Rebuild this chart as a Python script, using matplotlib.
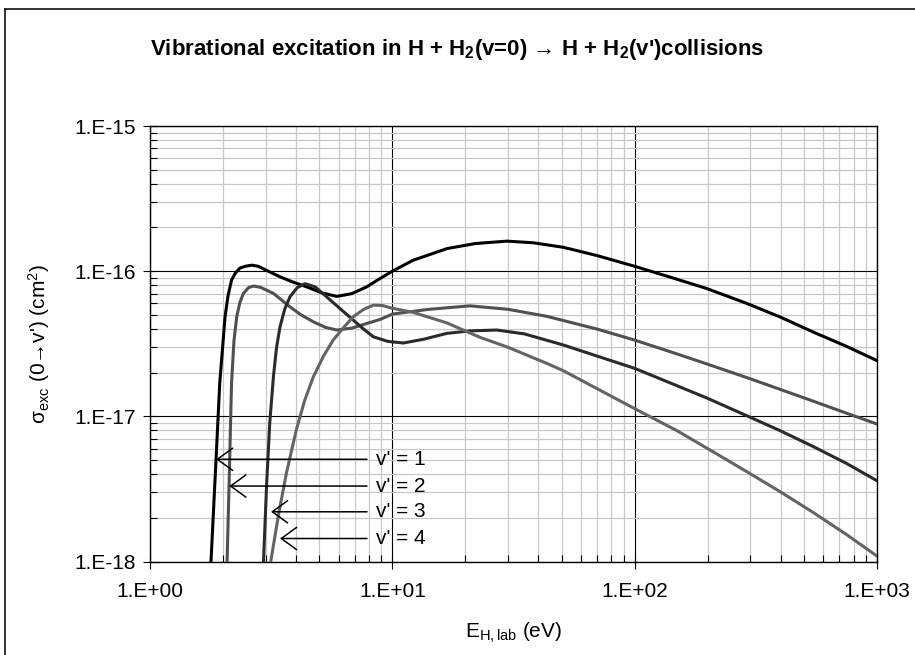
import matplotlib
matplotlib.use("Agg")
import matplotlib.pyplot as plt
from matplotlib.lines import Line2D
from matplotlib.ticker import LogLocator, NullFormatter, FixedLocator, FixedFormatter

plt.rcParams['font.family'] = ['Liberation Sans', 'DejaVu Sans']
plt.rcParams['mathtext.fontset'] = 'custom'
plt.rcParams['mathtext.rm'] = 'Liberation Sans'
plt.rcParams['mathtext.it'] = 'Liberation Sans:italic'
plt.rcParams['mathtext.bf'] = 'Liberation Sans:bold'
plt.rcParams['mathtext.default'] = 'regular'

# ---- data ----
v1_E = [1.785, 1.873, 1.94, 2.04, 2.10, 2.17, 2.25, 2.35, 2.47, 2.63, 2.8, 3.0, 3.44, 3.9, 4.43, 5.1, 5.9,
        6.8, 7.84, 8.9, 10, 12.2, 16.8, 22, 29.7, 38, 50.8, 70, 100, 140, 198, 290, 400, 547, 750, 1000]
v1_s = [1.0e-18, 5.06e-18, 1.69e-17, 4.85e-17, 6.8e-17, 8.67e-17, 9.7e-17, 1.05e-16, 1.08e-16, 1.10e-16,
        1.08e-16, 1.02e-16, 9.14e-17, 8.4e-17, 7.8e-17, 7.1e-17, 6.7e-17, 7.0e-17, 7.8e-17, 8.9e-17, 1.0e-16,
        1.19e-16, 1.43e-16, 1.55e-16, 1.61e-16, 1.57e-16, 1.46e-16, 1.28e-16, 1.08e-16, 9.1e-17, 7.6e-17,
        6.0e-17, 4.82e-17, 3.8e-17, 3.03e-17, 2.42e-17]

v2_E = [2.08, 2.12, 2.17, 2.22, 2.28, 2.35, 2.43, 2.55, 2.67, 2.85, 3.23, 3.78, 4.2, 4.72, 5.3, 5.9, 6.8, 7.84,
        8.9, 10, 14, 20.9, 30, 43.3, 70, 100, 140, 198, 290, 400, 547, 750, 1000]
v2_s = [1.0e-18, 3.4e-18, 1.69e-17, 3.3e-17, 4.85e-17, 6.1e-17, 7.03e-17, 7.7e-17, 7.9e-17, 7.75e-17, 7.03e-17,
        5.68e-17, 5.0e-17, 4.48e-17, 4.1e-17, 3.93e-17, 4.05e-17, 4.36e-17, 4.65e-17, 5.06e-17, 5.45e-17,
        5.77e-17, 5.46e-17, 4.89e-17, 3.99e-17, 3.35e-17, 2.79e-17, 2.30e-17, 1.85e-17, 1.53e-17, 1.27e-17,
        1.05e-17, 8.85e-18]

v3_E = [2.94, 3.03, 3.12, 3.23, 3.33, 3.44, 3.6, 3.78, 4.05, 4.36, 4.8, 5.36, 6.1, 6.9, 7.6, 8.35, 9.6, 11.1,
        13.5, 16.8, 21, 27, 35, 50.8, 70, 100, 140, 198, 290, 400, 547, 750, 1000]
v3_s = [1.0e-18, 3.46e-18, 9.0e-18, 1.87e-17, 3.0e-17, 4.14e-17, 5.5e-17, 6.65e-17, 7.7e-17, 8.2e-17, 7.8e-17,
        6.65e-17, 5.5e-17, 4.6e-17, 4.0e-17, 3.53e-17, 3.28e-17, 3.2e-17, 3.4e-17, 3.73e-17, 3.88e-17, 3.93e-17,
        3.7e-17, 3.1e-17, 2.6e-17, 2.14e-17, 1.70e-17, 1.34e-17, 1.01e-17, 7.94e-18, 6.18e-18, 4.73e-18, 3.6e-18]

v4_E = [3.15, 3.4, 3.66, 4.02, 4.35, 4.72, 5.2, 5.7, 6.3, 6.9, 7.6, 8.35, 9.1, 10, 12.2, 16.8, 23, 29.7, 43.3,
        50.8, 70, 100, 150, 211, 290, 398, 547, 750, 1000]
v4_s = [1.0e-18, 2.16e-18, 4.1e-18, 8.13e-18, 1.29e-17, 1.87e-17, 2.6e-17, 3.35e-17, 4.1e-17, 4.85e-17, 5.45e-17,
        5.83e-17, 5.8e-17, 5.55e-17, 5.2e-17, 4.4e-17, 3.5e-17, 3.01e-17, 2.32e-17, 2.06e-17, 1.55e-17,
        1.13e-17, 7.94e-18, 5.69e-18, 4.16e-18, 3.03e-18, 2.17e-18, 1.53e-18, 1.09e-18]

series_E = [v1_E, v2_E, v3_E, v4_E]
series_s = [v1_s, v2_s, v3_s, v4_s]
series_colors = ['#000000', '#505050', '#2a2a2a', '#646464']

labels = ["v' = 1", "v' = 2", "v' = 3", "v' = 4"]
arrow_tip_E = [1.873, 2.125, 3.158, 3.44]
arrow_tip_s = [5.06e-18, 3.31e-18, 2.2e-18, 1.44e-18]
arrow_tail_E = 7.86
label_E = 8.56

x_ticks = [1, 10, 100, 1000]
x_ticklabels = ['1.E+00', '1.E+01', '1.E+02', '1.E+03']
y_ticks = [1e-18, 1e-17, 1e-16, 1e-15]
y_ticklabels = ['1.E-18', '1.E-17', '1.E-16', '1.E-15']

title = "Vibrational excitation in H + H$_\\mathbf{2}$(v=0) \u2192 H + H$_\\mathbf{2}$(v')collisions"
xlabel = "E$_{H,lab}$ (eV)"
ylabel = "\u03c3$_{exc}$ (0\u2192v') (cm$^2$)"

# ---- figure ----
W, H = 915, 655
fig = plt.figure(figsize=(W / 100, H / 100), dpi=100)
ax = fig.add_axes([150 / W, 1 - 561.5 / H, (877 - 150) / W, (561.5 - 126) / H])

ax.set_xscale('log')
ax.set_yscale('log')
ax.set_xlim(1, 1000)
ax.set_ylim(1e-18, 1e-15)

ax.xaxis.set_major_locator(FixedLocator(x_ticks))
ax.xaxis.set_major_formatter(FixedFormatter(x_ticklabels))
ax.yaxis.set_major_locator(FixedLocator(y_ticks))
ax.yaxis.set_major_formatter(FixedFormatter(y_ticklabels))
ax.xaxis.set_minor_locator(LogLocator(base=10, subs=range(2, 10), numticks=20))
ax.yaxis.set_minor_locator(LogLocator(base=10, subs=range(2, 10), numticks=20))
ax.xaxis.set_minor_formatter(NullFormatter())
ax.yaxis.set_minor_formatter(NullFormatter())

ax.grid(which='minor', color='#c8c8c8', lw=0.9, zorder=0)
ax.grid(which='major', color='#000000', lw=0.8, zorder=0.5)
ax.set_axisbelow(True)

ax.tick_params(which='major', direction='inout', length=10, width=0.8, labelsize=15, pad=5, colors='black')
ax.tick_params(which='minor', direction='in', length=5, width=0.8)
ax.tick_params(axis='x', which='major', pad=10)
for sp in ax.spines.values():
    sp.set_linewidth(1.0)
    sp.set_color('black')

for E, s, c in zip(series_E, series_s, series_colors):
    ax.plot(E, s, color=c, lw=2.2, solid_joinstyle='round', solid_capstyle='round', zorder=3)

for lab, tE, ts in zip(labels, arrow_tip_E, arrow_tip_s):
    ax.annotate('', xy=(tE, ts), xytext=(arrow_tail_E, ts),
                arrowprops=dict(arrowstyle='->,head_length=1.1,head_width=0.8',
                                mutation_scale=10, lw=1.1, color='black',
                                shrinkA=0, shrinkB=0), zorder=4)
    ax.text(label_E, ts, lab, ha='left', va='center', fontsize=15, zorder=4)

ax.set_xlabel(xlabel, fontsize=15, labelpad=14)
ax.set_ylabel(ylabel, fontsize=15, labelpad=16)

fig.text(0.5, 1 - 50 / H, title, ha='center', va='center', fontsize=16, fontweight='bold')

# partial outer frame (left and top edges)
fig.add_artist(Line2D([5 / W, 5 / W], [0, 1 - 9 / H], transform=fig.transFigure, color='#111111', lw=1.2))
fig.add_artist(Line2D([5 / W, 1], [1 - 9 / H, 1 - 9 / H], transform=fig.transFigure, color='#111111', lw=1.2))

fig.savefig('out.png', dpi=100)
